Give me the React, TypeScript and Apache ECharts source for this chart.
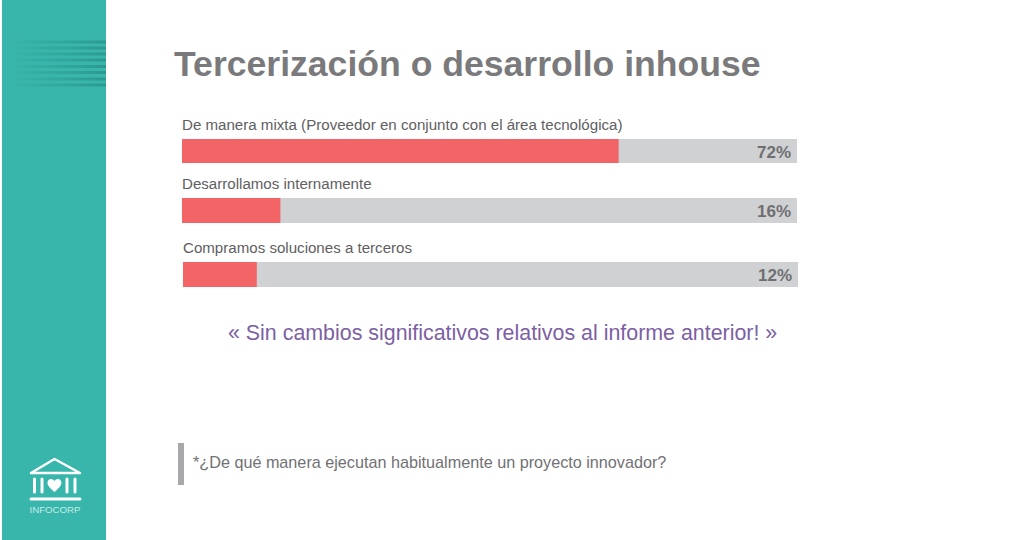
import React, { useEffect, useRef } from "react";
import * as echarts from "echarts";

const categories = [
  "De manera mixta (Proveedor en conjunto con el área tecnológica)",
  "Desarrollamos internamente",
  "Compramos soluciones a terceros",
];
const fillValues = [71, 16, 12];
const trackValues = [100, 100, 100];
const valueLabels = ["72%", "16%", "12%"];
const titleText = "Tercerización o desarrollo inhouse";
const calloutText = "« Sin cambios significativos relativos al informe anterior! »";
const noteText = "*¿De qué manera ejecutan habitualmente un proyecto innovador?";
const brandText = "INFOCORP";
const stripeYs = [42, 48, 54, 60, 66.5, 72.5, 79, 85];

const grids = [
  { left: 182, top: 139, width: 615, height: 24 },
  { left: 182, top: 198, width: 615, height: 25 },
  { left: 183, top: 262, width: 615, height: 25 },
];

const FONT = "'Liberation Sans', Arial, sans-serif";
const HEART =
  "M12 21 C5 15 0 11 0 6 C0 2.5 2.7 0 6 0 C8.5 0 10.8 1.3 12 3.5 C13.2 1.3 15.5 0 18 0 C21.3 0 24 2.5 24 6 C24 11 19 15 12 21 Z";

export default function App() {
  const ref = useRef<HTMLDivElement>(null);

  useEffect(() => {
    document.body.style.margin = "0";
    document.body.style.background = "#fff";
    echarts.graphic.registerShape("logoHeart", echarts.graphic.extendPath(HEART, {}));
    const chart = echarts.init(ref.current!, null, { renderer: "svg" });

    const series: any[] = [];
    categories.forEach((cat, i) => {
      series.push({
        type: "bar",
        xAxisIndex: i,
        yAxisIndex: i,
        data: [trackValues[i]],
        barWidth: "100%",
        barGap: "-100%",
        silent: true,
        itemStyle: { color: "#d0d1d3" },
        label: {
          show: true,
          position: "insideRight",
          distance: 6,
          offset: [0, 1],
          formatter: () => valueLabels[i],
          color: "#6f6f71",
          fontFamily: FONT,
          fontWeight: "bold",
          fontSize: 17,
        },
      });
      series.push({
        type: "bar",
        xAxisIndex: i,
        yAxisIndex: i,
        data: [fillValues[i]],
        barWidth: "100%",
        barGap: "-100%",
        silent: true,
        itemStyle: { color: "#f26466" },
        label: {
          show: true,
          position: [0, -22],
          formatter: () => cat,
          color: "#606062",
          fontFamily: FONT,
          fontSize: 15.1,
          overflow: "none",
        },
      });
    });

    const line = (x1: number, y1: number, x2: number, y2: number, lineWidth = 3) => ({
      type: "line",
      shape: { x1, y1, x2, y2 },
      style: { stroke: "#ffffff", lineWidth, lineCap: "round" },
    });

    chart.setOption({
      animation: false,
      backgroundColor: "#ffffff",
      grid: grids.map((g) => ({ ...g, containLabel: false })),
      xAxis: grids.map((_, i) => ({
        type: "value",
        gridIndex: i,
        min: 0,
        max: 100,
        show: false,
      })),
      yAxis: grids.map((_, i) => ({
        type: "category",
        gridIndex: i,
        data: [categories[i]],
        show: false,
      })),
      series,
      graphic: [
        {
          type: "rect",
          z: -1,
          shape: { x: 2, y: 0, width: 104, height: 540 },
          style: { fill: "#39b6ab" },
        },
        ...stripeYs.map((y) => ({
          type: "rect",
          shape: { x: 8, y: y - 1.5, width: 98, height: 3 },
          style: {
            fill: new echarts.graphic.LinearGradient(0, 0, 1, 0, [
              { offset: 0, color: "rgba(40,150,140,0)" },
              { offset: 0.4, color: "rgba(40,150,140,0.35)" },
              { offset: 1, color: "rgba(40,140,130,0.7)" },
            ]),
          },
        })),
        {
          type: "polygon",
          shape: { points: [[54.5, 459], [31, 473], [80, 473]] },
          style: { fill: "transparent", stroke: "#ffffff", lineWidth: 2.5, lineJoin: "round" },
        },
        line(34.5, 479, 34.5, 492),
        line(42, 479, 42, 492),
        line(67, 479, 67, 492),
        line(75, 479, 75, 492),
        line(31, 499, 80, 499),
        {
          type: "logoHeart",
          x: 47.5,
          y: 479,
          scaleX: 0.58,
          scaleY: 0.62,
          style: { fill: "#ffffff" },
        },
        {
          type: "text",
          x: 55,
          y: 509,
          style: {
            text: brandText,
            fill: "#c6ebe7",
            font: `9.7px ${FONT}`,
            align: "center",
            verticalAlign: "middle",
          },
        },
        {
          type: "text",
          x: 174,
          y: 64,
          style: {
            text: titleText,
            fill: "#7a7a7c",
            font: `bold 35.6px ${FONT}`,
            verticalAlign: "middle",
          },
        },
        {
          type: "text",
          x: 228,
          y: 333,
          style: {
            text: calloutText,
            fill: "#7d5fa3",
            font: `21.4px ${FONT}`,
            verticalAlign: "middle",
          },
        },
        {
          type: "rect",
          shape: { x: 178, y: 443, width: 6, height: 42 },
          style: { fill: "#a9a9ab" },
        },
        {
          type: "text",
          x: 193,
          y: 462,
          style: {
            text: noteText,
            fill: "#717174",
            font: `16.2px ${FONT}`,
            verticalAlign: "middle",
          },
        },
      ],
    });
    return () => chart.dispose();
  }, []);

  return <div ref={ref} style={{ width: 1024, height: 540 }} />;
}
